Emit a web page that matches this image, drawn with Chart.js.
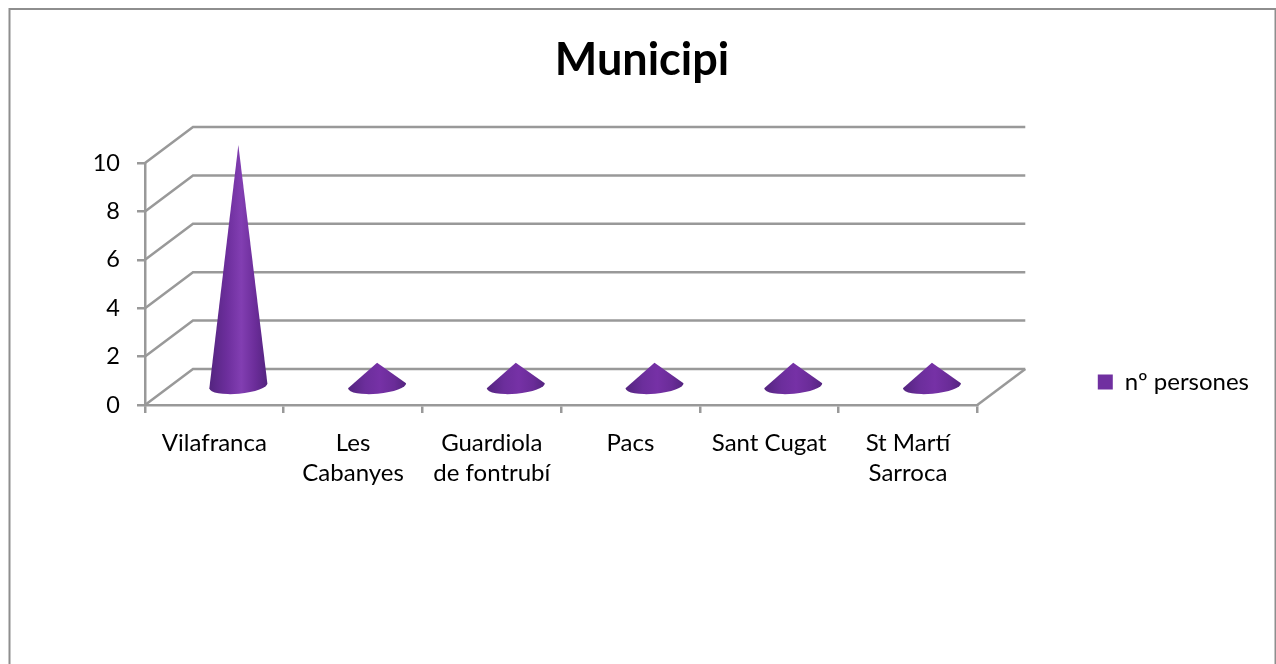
<!DOCTYPE html>
<html>
<head>
<meta charset="utf-8">
<title>Municipi</title>
<script src="https://cdn.jsdelivr.net/npm/chart.js@4/dist/chart.umd.min.js"></script>
<style>
    html, body { margin: 0; padding: 0; background: #fff; overflow: hidden; }
    #wrap { width: 1276px; height: 664px; position: relative; }
</style>
</head>
<body>
<div id="wrap"><canvas id="chart"></canvas></div>
<script>
const categories = ['Vilafranca', ['Les', 'Cabanyes'], ['Guardiola', 'de fontrubí'], 'Pacs', 'Sant Cugat', ['St Martí', 'Sarroca']];
const seriesName = 'nº persones';
const persones = [10, 1, 1, 1, 1, 1];
const yTicks = [0, 2, 4, 6, 8, 10];

const FONT = 'Lato, sans-serif';
const GRID = '#999999';
const DEPTH_X = 48;
const DEPTH_Y = -36;

// ── 3D wall, floor and cones ────────────────

function drawDepthGrid(chart) {
    const { ctx, chartArea, scales } = chart;
    ctx.save();
    ctx.strokeStyle = GRID;
    ctx.lineWidth = 2.5;
    scales.y.ticks.forEach(t => {
        const y = scales.y.getPixelForValue(t.value);
        ctx.beginPath();
        ctx.moveTo(chartArea.left, y);
        ctx.lineTo(chartArea.left + DEPTH_X, y + DEPTH_Y);
        ctx.lineTo(chartArea.right + DEPTH_X, y + DEPTH_Y);
        ctx.stroke();
    });
    // floor edge on the right
    ctx.beginPath();
    ctx.moveTo(chartArea.right, chartArea.bottom);
    ctx.lineTo(chartArea.right + DEPTH_X, chartArea.bottom + DEPTH_Y);
    ctx.stroke();
    ctx.restore();
}

function drawCone(ctx, bar) {
    const half = bar.width / 2;
    const cx = bar.x + DEPTH_X / 2;
    const apex = bar.y + DEPTH_Y / 2;
    const cy = bar.base + DEPTH_Y / 2;
    const tilt = -0.09;
    // short cones look flatter, less highlight
    const mid = bar.base - bar.y > 100 ? '#823eb2' : '#7631a6';

    const g = ctx.createLinearGradient(cx - half, 0, cx + half, 0);
    g.addColorStop(0, '#53247f');
    g.addColorStop(0.3, '#6c2e9c');
    g.addColorStop(0.55, mid);
    g.addColorStop(0.8, '#6a2c98');
    g.addColorStop(1, '#53247f');

    ctx.save();
    ctx.fillStyle = g;
    ctx.beginPath();
    ctx.moveTo(cx, apex);
    ctx.lineTo(cx + half * Math.cos(tilt), cy + half * Math.sin(tilt));
    ctx.ellipse(cx, cy, half, 8, tilt, 0, Math.PI);
    ctx.closePath();
    ctx.fill();
    ctx.restore();
}

const conePlugin = {
    id: 'cones',
    beforeDraw(chart) {
        // outer frame, cut off by the page at the bottom
        const { ctx, width, height } = chart;
        ctx.save();
        ctx.strokeStyle = '#8e8e8e';
        ctx.lineWidth = 2;
        ctx.beginPath();
        ctx.moveTo(9.5, height);
        ctx.lineTo(9.5, 9);
        ctx.lineTo(width - 0.5, 9);
        ctx.lineTo(width - 0.5, height);
        ctx.stroke();
        ctx.restore();
    },
    beforeDatasetsDraw(chart) {
        drawDepthGrid(chart);
        chart.getDatasetMeta(0).data.forEach(bar => drawCone(chart.ctx, bar));
        return false;
    }
};

new Chart(document.getElementById('chart'), {
    type: 'bar',
    data: {
        labels: categories,
        datasets: [{
            label: seriesName,
            data: persones,
            backgroundColor: '#7030a0',
            borderWidth: 0,
            barPercentage: 0.42,
            categoryPercentage: 1
        }]
    },
    options: {
        responsive: true,
        maintainAspectRatio: false,
        animation: false,
        events: [],
        layout: { padding: { left: 25, right: 17, top: 0, bottom: 0 } },
        scales: {
            x: {
                afterFit: s => { s.height = 259; },
                grid: { offset: true, drawOnChartArea: false, color: GRID, lineWidth: 2.5, tickLength: 8 },
                border: { color: GRID, width: 2.5 },
                ticks: {
                    autoSkip: false, maxRotation: 0, minRotation: 0, padding: 15,
                    color: '#000',
                    font: { family: FONT, size: 24, lineHeight: 1.25 }
                }
            },
            y: {
                min: 0,
                max: 10,
                afterBuildTicks: s => { s.ticks = yTicks.map(v => ({ value: v })); },
                afterFit: s => { s.width = 120; },
                grid: { drawOnChartArea: false, color: GRID, lineWidth: 2.5, tickLength: 8 },
                border: { color: GRID, width: 2.5 },
                ticks: { padding: 17, color: '#000', font: { family: FONT, size: 23.5 } }
            },
            // empty axis, only keeps room for the depth between plot and legend
            spacer: {
                position: 'right',
                afterFit: s => { s.width = 109.5; },
                grid: { display: false },
                border: { display: false },
                ticks: { display: false }
            }
        },
        plugins: {
            title: {
                display: true,
                text: 'Municipi',
                color: '#000',
                font: { family: FONT, size: 45, weight: 'bold' },
                padding: { top: 33, bottom: 76 }
            },
            legend: {
                position: 'right',
                align: 'end',
                fullSize: false,
                labels: {
                    boxWidth: 15,
                    boxHeight: 15,
                    padding: 11,
                    color: '#000',
                    font: { family: FONT, size: 24 }
                }
            },
            tooltip: { enabled: false }
        }
    },
    plugins: [conePlugin]
});
</script>
</body>
</html>
